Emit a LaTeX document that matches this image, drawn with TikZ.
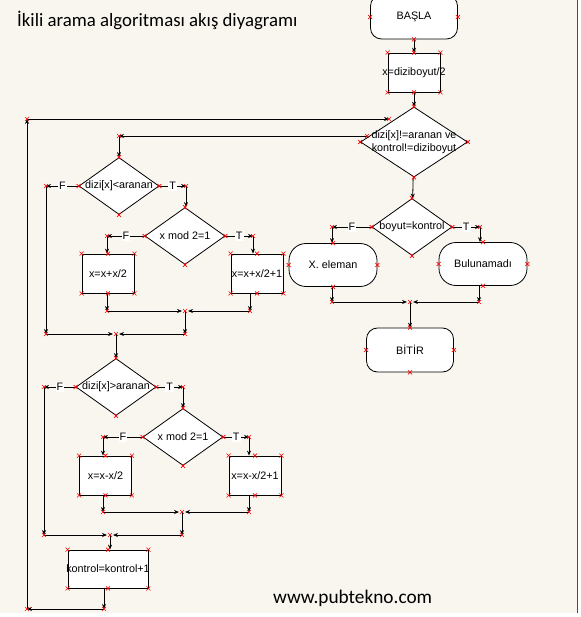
\documentclass[tikz,border=0pt]{standalone}
\usepackage{fontspec}
\setmainfont{Liberation Sans}
\newfontfamily\calfont{Carlito}
\usetikzlibrary{shapes.geometric,calc,arrows.meta,positioning}
\definecolor{paper}{RGB}{249,246,239}
\newcommand{\nw}[1]{\makebox[0pt]{#1}}
\tikzset{xm/.pic={\draw[red, line width=0.6pt] (-2,-2) -- (2,2) (-2,2) -- (2,-2);}}

\begin{document}
\begin{tikzpicture}[x=1pt,y=-1pt, every node/.style={font=\fontsize{10.8}{13}\selectfont, inner sep=0pt},
    box/.style={draw, fill=white, line width=0.8pt, minimum width=52pt, minimum height=39pt},
    dec/.style={draw, diamond, fill=white, line width=0.8pt, minimum width=80pt, minimum height=57pt},
    term/.style={draw, fill=white, line width=0.8pt, rounded corners=11pt, minimum width=87pt, minimum height=44pt},
    pill/.style={draw, fill=white, line width=0.8pt, rounded corners=17pt, minimum width=88pt, minimum height=43pt},
    lab/.style={fill=white, inner sep=1pt},
    flow/.style={-{Stealth[length=5pt,width=4pt]}, line width=0.8pt},
    meet/.style={shorten >=3pt}]
    \useasboundingbox (0,0) rectangle (580,617);
    \fill[white] (0,0) rectangle (580,617);
    \fill[paper] (0,0) rectangle (577,613);
    \draw[gray!60!black, line width=1pt] (577,0) -- (577,613);

    \node[font=\calfont\fontsize{18.8}{22}\selectfont, anchor=base west] (title) at (17,26.5) {İkili arama algoritması akış diyagramı};
    \node[font=\calfont\fontsize{19.3}{22}\selectfont, anchor=base west] (site) at (273,603) {www.pubtekno.com};

    % right column
    \node[term] (start) at (414,17) {BAŞLA};
    \node[box] (init) at (414,72.5) {\nw{x=diziboyut/2}};
    \node[dec, minimum width=107pt, minimum height=70pt] (loop) at (414,142) {\nw{\begin{tabular}{c}dizi[x]!=aranan ve\\kontrol!=diziboyut\end{tabular}}};
    \node[dec] (found) at (412,227) {\nw{boyut=kontrol}};
    \node[pill] (yes) at (333,265) {X. eleman};
    \node[pill] (no) at (483,264) {Bulunamadı};
    \node[term] (stop) at (410,350) {BİTİR};

    % left column
    \node[dec] (less) at (119,186) {\nw{dizi[x]<aranan}};
    \node[dec] (oddA) at (185,236) {\nw{x mod 2=1}};
    \node[box] (upA) at (108,273.5) {x=x+x/2};
    \node[box] (upB) at (257,273.5) {\nw{x=x+x/2+1}};
    \node[dec] (more) at (116,387) {\nw{dizi[x]>aranan}};
    \node[dec] (oddB) at (183,437) {\nw{x mod 2=1}};
    \node[box] (dnA) at (105.5,475.5) {x=x-x/2};
    \node[box] (dnB) at (255,475.5) {\nw{x=x-x/2+1}};
    \node[box, minimum width=80pt, minimum height=38pt] (inc) at (108,569) {\nw{kontrol=kontrol+1}};

    % bends and joins
    \coordinate (f1) at (332,227);
    \coordinate (t1) at (480,227);
    \coordinate (y1) at (332,302);
    \coordinate (n1) at (479,302);
    \coordinate (j1) at (410,302);
    \coordinate (e1) at (367,136);
    \coordinate (l1) at (119,136);
    \coordinate (lf) at (46,186);
    \coordinate (lf2) at (46,334);
    \coordinate (lt) at (186,186);
    \coordinate (af) at (107,236);
    \coordinate (aT) at (253,236);
    \coordinate (ma) at (107,311);
    \coordinate (mb) at (250,311);
    \coordinate (ja) at (185,311);
    \coordinate (jb) at (185,334);
    \coordinate (jm) at (116,334);
    \coordinate (lf3) at (44,387);
    \coordinate (lf4) at (44,535);
    \coordinate (mt) at (183,387);
    \coordinate (bf) at (103,437);
    \coordinate (bT) at (249,437);
    \coordinate (mc) at (103,512);
    \coordinate (md) at (249,512);
    \coordinate (jc) at (182,512);
    \coordinate (jd) at (182,535);
    \coordinate (je) at (110,535);
    \coordinate (ka) at (104,609);
    \coordinate (kb) at (27,609);
    \coordinate (kc) at (27,119);
    \coordinate (e2) at (389,119);

    % connectors
    \path[flow] (start) edge (init) (init) edge (loop) (loop) edge (found);
    \path[flow] (found.west) edge node[lab]{F} (f1) (f1) edge (f1 |- yes.north)
                (found.east) edge node[lab]{T} (t1) (t1) edge (t1 |- no.north);
    \path[flow] (yes.south -| y1) edge (y1) (y1) edge[meet] (j1)
                (no.south -| n1) edge (n1) (n1) edge[meet] (j1)
                (j1) edge (stop);
    \path[flow] (e1) edge (l1) (l1) edge (less);
    \path[flow] (less.west) edge node[lab]{F} (lf) (lf) edge (lf2) (lf2) edge[meet] (jm)
                (less.east) edge node[lab]{T} (lt) (lt) edge (lt |- oddA.north);
    \path[flow] (oddA.west) edge node[lab]{F} (af) (af) edge (af |- upA.north)
                (oddA.east) edge node[lab]{T} (aT) (aT) edge (aT |- upB.north);
    \path[flow] (ma |- upA.south) edge (ma) (ma) edge[meet] (ja)
                (mb |- upB.south) edge (mb) (mb) edge[meet] (ja)
                (ja) edge (jb) (jb) edge[meet] (jm) (jm) edge (more);
    \path[flow] (more.west) edge node[lab]{F} (lf3) (lf3) edge (lf4) (lf4) edge[meet] (je)
                (more.east) edge node[lab]{T} (mt) (mt) edge (mt |- oddB.north);
    \path[flow] (oddB.west) edge node[lab]{F} (bf) (bf) edge (bf |- dnA.north)
                (oddB.east) edge node[lab]{T} (bT) (bT) edge (bT |- dnB.north);
    \path[flow] (mc |- dnA.south) edge (mc) (mc) edge[meet] (jc)
                (md |- dnB.south) edge (md) (md) edge[meet] (jc)
                (jc) edge (jd) (jd) edge[meet] (je) (je) edge (je |- inc.north);
    \path[flow] (ka |- inc.south) edge (ka) (ka) edge (kb) (kb) edge (kc) (kc) edge (e2);

    % red markers
    \foreach \n in {init,upA,upB,dnA,dnB,inc}
      \foreach \a in {north west,north east,south west,south east,north,south}
        \path (\n.\a) pic{xm};
    \foreach \n in {start,loop,found,yes,no,stop,less,oddA,more,oddB}
      \foreach \a in {north,south,east,west}
        \path (\n.\a) pic{xm};
    \foreach \c in {f1,t1,y1,n1,j1,e1,l1,lf,lf2,lt,af,aT,ma,mb,ja,jb,jm,lf3,lf4,mt,bf,bT,mc,md,jc,jd,je,ka,kb,kc,e2}
      \path (\c) pic{xm};
\end{tikzpicture}
\end{document}
